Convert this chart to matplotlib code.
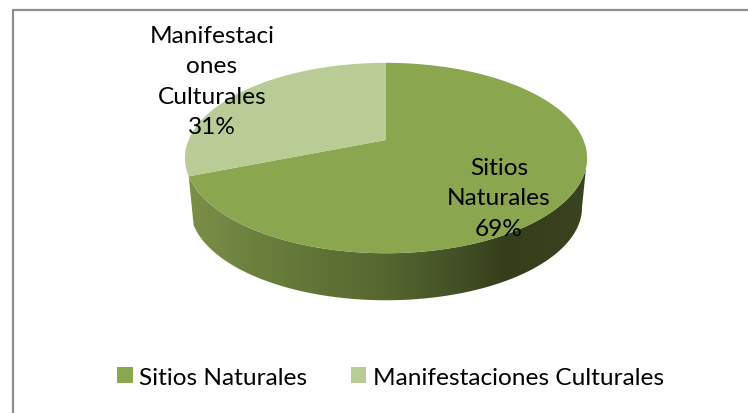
import matplotlib
matplotlib.use("Agg")
import matplotlib.pyplot as plt
from matplotlib.patches import Patch, Polygon
import numpy as np

categories = ["Sitios Naturales", "Manifestaciones Culturales"]
shares = [69, 31]
colors = ["#8AA64F", "#B9CC95"]
data_labels = ["Sitios\nNaturales\n69%", "Manifestaci\nones\nCulturales\n31%"]
side_stops = [0.0, 0.25, 0.5, 0.68, 0.8, 1.0]
side_colors = ["#7C9049", "#667A3A", "#55672F", "#434F26", "#343E1B", "#3A4420"]

CX, APEX_Y, RX = 386, 141, 197.4
ELL_Y = 159
PERSP, YA = 0.1895, -65.06
BASE_SCALE, BASE_DROP = 0.975, 49.4
FONT = "Lato"
FS = 17.6


def project(frac):
    # clockwise fraction from 12 o'clock -> point on the tilted disc
    ang = 2 * np.pi * np.asarray(frac)
    u, v = np.sin(ang), np.cos(ang)
    d = 1 + PERSP * v
    return CX + RX * u / d, (YA * v + APEX_Y) / d


def slice_outline(start, end):
    fr = np.linspace(start, end, 240)
    x, y = project(fr)
    return np.column_stack([np.r_[CX, x], np.r_[APEX_Y, y]])


fig = plt.figure(figsize=(7.48, 4.14), dpi=100)
ax = fig.add_axes([0, 0, 1, 1])
ax.axis("off")

# chart frame, only left and top are in the crop
ax.plot([13, 13, 748], [414, 11, 11], color="#8E8E8E", lw=1.6)

# extruded side, horizontal gradient clipped between top rim and base rim
share_end = shares[0] / sum(shares)
fr = np.linspace(0, 1, 1440)
rx, ry = project(fr)
side_fr = np.linspace(fr[np.argmax(rx)], share_end, 400)
tx, ty = project(side_fr)
bx = CX + (tx - CX) * BASE_SCALE
by = ELL_Y + (ty - ELL_Y) * BASE_SCALE + BASE_DROP
x_grid = np.linspace(rx.min(), rx.max(), 400)
t = (x_grid - x_grid[0]) / (x_grid[-1] - x_grid[0])
rgb = np.array([matplotlib.colors.to_rgb(c) for c in side_colors])
grad = np.stack([np.interp(t, side_stops, rgb[:, i]) for i in range(3)], axis=-1)[None, :, :]
im = ax.imshow(grad, extent=[x_grid[0], x_grid[-1], 310, 150], aspect="auto", zorder=1)
ax.set_xlim(0, 748)
ax.set_ylim(414, 0)
clip = Polygon(np.column_stack([np.r_[tx, bx[::-1]], np.r_[ty, by[::-1]]]), closed=True,
               transform=ax.transData, fc="none", ec="none")
ax.add_patch(clip)
im.set_clip_path(clip)

# top faces
start = 0.0
for share, color in zip(shares, colors):
    end = start + share / sum(shares)
    ax.add_patch(Polygon(slice_outline(start, end), closed=True, fc=color, ec="none", zorder=2))
    start = end

ax.text(499, 199, data_labels[0], ha="center", va="center", fontsize=FS, family=FONT,
        color="black", linespacing=1.53, zorder=3)
ax.text(212, 82, data_labels[1], ha="center", va="center", fontsize=FS, family=FONT,
        color="black", linespacing=1.53, zorder=3)

handles = [Patch(fc=c, ec="none") for c in colors]
ax.legend(handles, categories, loc="center", bbox_to_anchor=(390.5 / 748, 1 - 378.5 / 414),
          ncol=2, frameon=False, prop={"family": FONT, "size": FS}, borderpad=0, borderaxespad=0,
          handlelength=0.62, handleheight=0.62, handletextpad=0.26, columnspacing=1.8)

fig.savefig("out.png", dpi=100)
